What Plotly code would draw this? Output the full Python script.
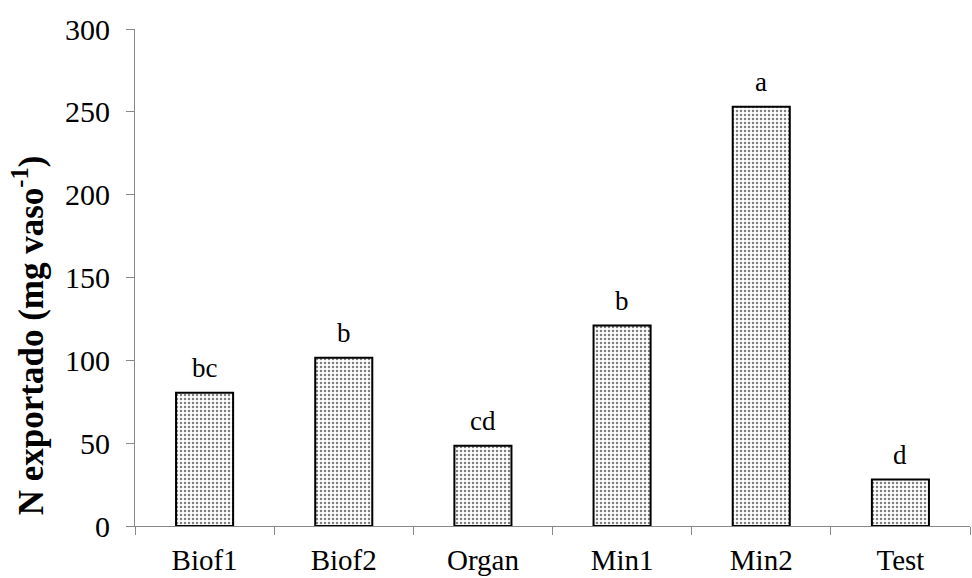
import plotly.graph_objects as go

categories = ["Biof1", "Biof2", "Organ", "Min1", "Min2", "Test"]
values = [80.5, 101.5, 48.5, 121, 253, 28]
letters = ["bc", "b", "cd", "b", "a", "d"]
y_title = "<b>N exportado (mg vaso<sup>-1</sup>)</b>"

font_family = "Liberation Serif, Times New Roman, serif"

fig = go.Figure()
fig.add_trace(go.Bar(
    x=categories, y=values, width=0.41,
    marker=dict(color="white", line=dict(color="black", width=2),
                pattern=dict(shape=".", fgcolor="black", bgcolor="white", size=4, solidity=0.3)),
    showlegend=False,
))
for c, v, t in zip(categories, values, letters):
    fig.add_annotation(x=c, y=v, text=t, showarrow=False, yanchor="bottom",
                       yshift=8, font=dict(family=font_family, size=27, color="black"))

fig.add_annotation(xref="paper", yref="paper", x=-0.128, y=0.384, text=y_title,
                   textangle=-90, showarrow=False, xanchor="center", yanchor="middle",
                   font=dict(family=font_family, size=35, color="black"))

fig.update_layout(
    width=972, height=578,
    margin=dict(l=135, r=2, t=29, b=52),
    paper_bgcolor="white", plot_bgcolor="white",
    font=dict(family=font_family, color="black", size=29),
    xaxis=dict(showline=True, linecolor="#888888", linewidth=1,
               ticks="outside", ticklen=8, tickcolor="#888888",
               tickson="boundaries", showgrid=False, automargin=False,
               tickfont=dict(size=29, family=font_family),
               ticklabelstandoff=8,
               range=[-0.5, 5.5]),
    yaxis=dict(range=[0, 300], dtick=50, showline=True, linecolor="#888888", linewidth=1,
               ticks="outside", ticklen=8, tickcolor="#888888", showgrid=False,
               zeroline=False, automargin=False,
               tickfont=dict(size=30, family=font_family),
               ticklabelstandoff=10),
)

fig.write_html("out.html")
